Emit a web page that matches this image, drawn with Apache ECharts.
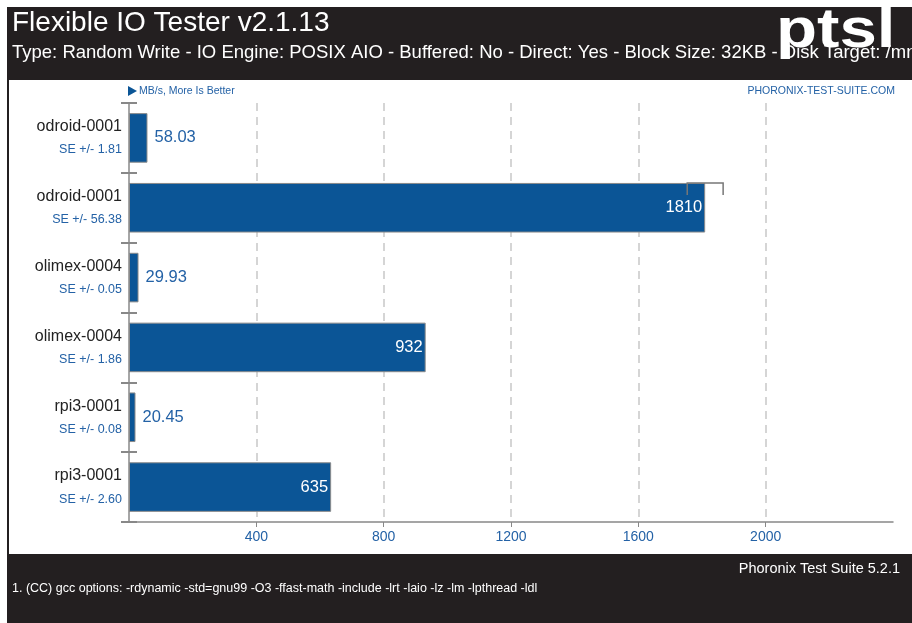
<!DOCTYPE html>
<html>
<head>
<meta charset="utf-8">
<script src="https://cdn.jsdelivr.net/npm/echarts@6/dist/echarts.min.js"></script>
<style>html,body{margin:0;padding:0;background:#fff}#c{width:912px;height:623px}</style>
</head>
<body>
<div id="c"></div>
<script>
const categories = ['odroid-0001', 'odroid-0001', 'olimex-0004', 'olimex-0004', 'rpi3-0001', 'rpi3-0001'];
const values = [58.03, 1810, 29.93, 932, 20.45, 635];
const valueLabels = ['58.03', '1810', '29.93', '932', '20.45', '635'];
const seValues = [1.81, 56.38, 0.05, 1.86, 0.08, 2.60];
const seLabels = ['1.81', '56.38', '0.05', '1.86', '0.08', '2.60'];
const xTicks = [0, 400, 800, 1200, 1600, 2000, 2400];

const title = 'Flexible IO Tester v2.1.13';
const subtitle = 'Type: Random Write - IO Engine: POSIX AIO - Buffered: No - Direct: Yes - Block Size: 32KB - Disk Target: /mnt';
const unitText = "MB/s, More Is Better";
const footerRight = 'Phoronix Test Suite 5.2.1';
const footnote = '1. (CC) gcc options: -rdynamic -std=gnu99 -O3 -ffast-math -include -lrt -laio -lz -lm -lpthread -ldl';

const FONT = '"Liberation Sans", Arial, sans-serif';
const BLUE = '#0b5596';
const TXTBLUE = '#2462a6';

const chart = echarts.init(document.getElementById('c'), null, {renderer: 'canvas'});

const barData = values.map((v, i) => {
  const inside = v > 300;
  return {
    value: v,
    label: inside
      ? {position: 'insideRight', color: '#ffffff', distance: 3}
      : {position: 'right', color: TXTBLUE, distance: 7}
  };
});

const option = {
  animation: false,
  backgroundColor: '#ffffff',
  graphic: [
    {type: 'rect', shape: {x: 7, y: 7, width: 905, height: 616}, style: {fill: '#231f20'}, z: -10, silent: true},
    {type: 'rect', shape: {x: 9, y: 80, width: 903, height: 474}, style: {fill: '#ffffff'}, z: -9, silent: true},
    {type: 'text', x: 12, y: 9, style: {text: title, fill: '#ffffff', font: '28px ' + FONT}, z: 5},
    {type: 'text', x: 12, y: 43, style: {text: subtitle, fill: '#ffffff', font: '18.5px ' + FONT}, z: 5},
    {type: 'text', x: 776, y: 4, scaleX: 1.2, style: {text: 'ptsl', fill: '#ffffff', font: 'bold 56px ' + FONT}, z: 6},
    {type: 'polygon', shape: {points: [[128, 86], [137, 91], [128, 96]]}, style: {fill: BLUE}, z: 5},
    {type: 'text', x: 139, y: 86, style: {text: unitText, fill: TXTBLUE, font: '10.5px ' + FONT}, z: 5},
    {type: 'text', x: 895, y: 86, style: {text: 'PHORONIX-TEST-SUITE.COM', fill: TXTBLUE, font: '10.5px ' + FONT, align: 'right'}, z: 5},
    {type: 'text', x: 900, y: 561, style: {text: footerRight, fill: '#ffffff', font: '14.5px ' + FONT, align: 'right'}, z: 5},
    {type: 'text', x: 12, y: 582, style: {text: footnote, fill: '#ffffff', font: '12.5px ' + FONT}, z: 5}
  ],
  grid: {left: 129, right: 19, top: 103, bottom: 101, containLabel: false},
  xAxis: {
    type: 'value',
    min: xTicks[0],
    max: xTicks[xTicks.length - 1],
    interval: 400,
    axisLine: {show: true, lineStyle: {color: '#888', width: 1.5}},
    axisTick: {show: true, length: 5, lineStyle: {color: '#888'}},
    axisLabel: {
      color: TXTBLUE, fontSize: 14, fontFamily: FONT, margin: 8,
      showMinLabel: false, showMaxLabel: false,
      formatter: v => String(v)
    },
    splitLine: {show: true, showMinLine: false, showMaxLine: false, lineStyle: {color: '#c8c8c8', type: [8, 6], width: 1.5}}
  },
  yAxis: [
    {
      type: 'category',
      data: categories,
      inverse: true,
      axisLine: {show: true, lineStyle: {color: '#888', width: 1.5}},
      axisTick: {show: true, length: 8, lineStyle: {color: '#888', width: 2}},
      axisLabel: {
        margin: 7,
        align: 'right',
        formatter: (val, idx) => '{n|' + val + '}\n{s|SE +/- ' + seLabels[idx] + '}',
        rich: {
          n: {fontSize: 16, color: '#222', fontFamily: FONT, lineHeight: 24, align: 'right'},
          s: {fontSize: 12.5, color: TXTBLUE, fontFamily: FONT, lineHeight: 22, align: 'right'}
        }
      },
      splitLine: {show: false}
    },
    {
      type: 'category',
      data: categories,
      inverse: true,
      position: 'left',
      axisLine: {show: false},
      axisTick: {show: true, inside: true, length: 8, lineStyle: {color: '#888', width: 2}},
      axisLabel: {show: false},
      splitLine: {show: false}
    }
  ],
  series: [
    {
      type: 'bar',
      yAxisIndex: 0,
      data: barData,
      barWidth: '71%',
      itemStyle: {color: BLUE, borderColor: '#8a8a8a', borderWidth: 1},
      label: {
        show: true, fontSize: 16.5, fontFamily: FONT,
        formatter: p => valueLabels[p.dataIndex]
      },
      z: 2
    },
    {
      type: 'custom',
      yAxisIndex: 0,
      data: values.map((v, i) => [v, i, seValues[i]]),
      renderItem: (params, api) => {
        const v = api.value(0), idx = api.value(1), se = api.value(2);
        const lo = api.coord([v - se, idx]);
        const hi = api.coord([v + se, idx]);
        if (hi[0] - lo[0] < 4) return null;
        const band = api.size([0, 1])[1];
        const top = lo[1] - band * 0.71 / 2;
        return {
          type: 'polyline',
          shape: {points: [[lo[0], top + 12], [lo[0], top], [hi[0], top], [hi[0], top + 12]]},
          style: {stroke: '#777', lineWidth: 1.5, fill: null}
        };
      },
      z: 5,
      silent: true
    }
  ]
};
chart.setOption(option);
</script>
</body>
</html>
